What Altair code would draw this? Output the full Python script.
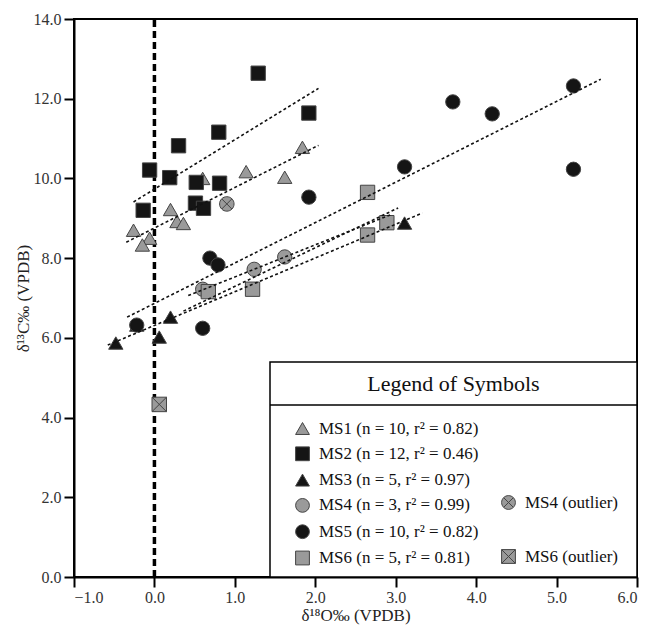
import altair as alt
import pandas as pd

# ---------------- data ----------------
labels = [
    "MS1 (n = 10, r² = 0.82)",
    "MS2 (n = 12, r² = 0.46)",
    "MS3 (n = 5, r² = 0.97)",
    "MS4 (n = 3, r² = 0.99)",
    "MS5 (n = 10, r² = 0.82)",
    "MS6 (n = 5, r² = 0.81)",
]
out_labels = ["MS4 (outlier)", "MS6 (outlier)"]

ms1_x = [1.84, 1.14, 1.62, 0.60, 0.20, 0.28, 0.36, -0.26, -0.06, -0.15]
ms1_y = [10.78, 10.17, 10.03, 10.00, 9.22, 8.92, 8.87, 8.70, 8.50, 8.33]
ms2_x = [1.29, 1.92, 0.80, 0.30, -0.06, 0.19, 0.52, 0.81, 0.51, 0.61, -0.14]
ms2_y = [12.64, 11.64, 11.16, 10.82, 10.21, 10.02, 9.90, 9.88, 9.38, 9.25, 9.20]
ms3_x = [-0.48, 0.06, 0.20, -0.22, 3.11]
ms3_y = [5.87, 6.02, 6.52, 6.32, 8.88]
ms4_x = [0.60, 1.24, 1.62]
ms4_y = [7.22, 7.72, 8.03]
ms5_x = [1.92, 0.69, 0.79, 3.71, 4.20, 5.21, 5.21, 3.11, -0.22, 0.60]
ms5_y = [9.53, 8.00, 7.83, 11.92, 11.62, 12.32, 10.23, 10.29, 6.32, 6.24]
ms6_x = [0.67, 1.22, 2.65, 2.89, 2.65]
ms6_y = [7.16, 7.22, 9.65, 8.89, 8.58]

out_x = [0.90, 0.06]
out_y = [9.36, 4.33]

# regression line end points (x0, y0, x1, y1)
line_x0 = [-0.35, -0.26, -0.58, 0.42, -0.34, 0.36]
line_y0 = [8.40, 9.41, 5.82, 7.06, 6.52, 6.67]
line_x1 = [2.04, 2.04, 3.33, 2.95, 5.55, 3.03]
line_y1 = [10.83, 12.26, 9.13, 9.10, 12.49, 9.26]

x_ticks = [-1, 0, 1, 2, 3, 4, 5, 6]
y_ticks = [0, 2, 4, 6, 8, 10, 12, 14]

# ---------------- tables ----------------
xs = [ms1_x, ms2_x, ms3_x, ms4_x, ms5_x, ms6_x]
ys = [ms1_y, ms2_y, ms3_y, ms4_y, ms5_y, ms6_y]
pts = pd.concat(
    [pd.DataFrame({"x": a, "y": b, "series": lab}) for a, b, lab in zip(xs, ys, labels)],
    ignore_index=True,
)
outs = pd.DataFrame({"x": out_x, "y": out_y, "oseries": out_labels})
lines = pd.concat(
    [
        pd.DataFrame({"x": [a, c], "y": [b, d], "series": lab})
        for a, b, c, d, lab in zip(line_x0, line_y0, line_x1, line_y1, labels)
    ],
    ignore_index=True,
)
zero_line = pd.DataFrame({"x": [0.0], "y": [0.0], "y2": [14.0]})
one = pd.DataFrame({"k": [0]})

GRAY = "#9a9a9a"
BLACK = "#151515"
EDGE = "#444444"
FONT = "Liberation Serif"

xscale = alt.Scale(domain=[-1, 6], nice=False, zero=False)
yscale = alt.Scale(domain=[0, 14], nice=False, zero=False)

xenc = alt.X(
    "x:Q",
    scale=xscale,
    axis=alt.Axis(
        values=x_ticks, format=".1f", title="δ¹⁸O‰ (VPDB)", titlePadding=2, labelPadding=2
    ),
)
yenc = alt.Y(
    "y:Q",
    scale=yscale,
    axis=alt.Axis(values=y_ticks, format=".1f", title="δ¹³C‰ (VPDB)", titlePadding=1),
)

zero = alt.Chart(zero_line).mark_rule(
    color="black", strokeWidth=3.5, strokeDash=[7, 4]
).encode(x=alt.X("x:Q", scale=xscale), y=alt.Y("y:Q", scale=yscale), y2="y2:Q")

main_legend = alt.Legend(
    orient="none", legendX=220, legendY=401, title=None, rowPadding=7.3
)

points = alt.Chart(pts).mark_point(filled=True, opacity=1, size=205, strokeWidth=1).encode(
    x=xenc,
    y=yenc,
    shape=alt.Shape(
        "series:N",
        scale=alt.Scale(
            domain=labels,
            range=["triangle-up", "square", "triangle-up", "circle", "circle", "square"],
        ),
        legend=main_legend,
    ),
    fill=alt.Fill(
        "series:N",
        scale=alt.Scale(domain=labels, range=[GRAY, BLACK, BLACK, GRAY, BLACK, GRAY]),
        legend=main_legend,
    ),
    stroke=alt.Stroke(
        "series:N",
        scale=alt.Scale(domain=labels, range=[EDGE] * 6),
        legend=main_legend,
    ),
)

circ_x = "M1,0A1,1,0,1,1,-1,0A1,1,0,1,1,1,0Z M-0.7,-0.7L0.7,0.7 M-0.7,0.7L0.7,-0.7"
sq_x = "M-1,-1L1,-1L1,1L-1,1Z M-1,-1L1,1 M-1,1L1,-1"

out_legend = alt.Legend(
    orient="none", legendX=426, legendY=475, title=None, rowPadding=35
)

outliers = alt.Chart(outs).mark_point(filled=True, opacity=1, size=210, strokeWidth=1).encode(
    x=alt.X("x:Q", scale=xscale),
    y=alt.Y("y:Q", scale=yscale),
    shape=alt.Shape(
        "oseries:N",
        scale=alt.Scale(domain=out_labels, range=[circ_x, sq_x]),
        legend=out_legend,
    ),
    fill=alt.Fill(
        "oseries:N",
        scale=alt.Scale(domain=out_labels, range=[GRAY, GRAY]),
        legend=out_legend,
    ),
    stroke=alt.Stroke(
        "oseries:N",
        scale=alt.Scale(domain=out_labels, range=[EDGE, EDGE]),
        legend=out_legend,
    ),
)

reg = alt.Chart(lines).mark_line(
    color="#111111", strokeWidth=1.6, strokeDash=[3, 2.5]
).encode(
    x=alt.X("x:Q", scale=xscale),
    y=alt.Y("y:Q", scale=yscale),
    detail="series:N",
)

frame = alt.Chart(one).mark_rect(
    fill="white", stroke="black", strokeWidth=1.5
).encode(
    x=alt.value(196), x2=alt.value(563), y=alt.value(343), y2=alt.value(558)
)
divider = alt.Chart(one).mark_rule(color="black", strokeWidth=1.5).encode(
    x=alt.value(196), x2=alt.value(563), y=alt.value(386)
)
title = alt.Chart(one).mark_text(
    font=FONT, fontSize=22, color="#111", align="center", baseline="middle"
).encode(x=alt.value(379.5), y=alt.value(365), text=alt.value("Legend of Symbols"))

chart = (
    alt.layer(zero, points, outliers, reg, frame, divider, title)
    .resolve_scale(shape="independent", fill="independent", stroke="independent")
    .properties(
        width=563,
        height=558,
        autosize=alt.AutoSizeParams(type="none"),
        padding={"left": 66, "top": 11, "right": 5, "bottom": 54},
        background="white",
    )
    .configure_view(stroke="black", strokeWidth=2)
    .configure_axis(
        grid=False,
        domainColor="black",
        domainWidth=2,
        tickColor="black",
        tickWidth=2,
        tickSize=10,
        labelPadding=3,
        labelFont=FONT,
        labelFontSize=16,
        labelColor="#333",
        titleFont=FONT,
        titleFontSize=17,
        titleFontWeight="normal",
        titleColor="#222",
    )
    .configure_legend(
        labelFont=FONT,
        labelFontSize=17,
        labelColor="#111",
        labelLimit=400,
        labelOffset=8,
        symbolSize=190,
        symbolStrokeWidth=1,
        padding=0,
    )
)

chart.save("out.html", embed_options={"renderer": "svg", "actions": False})
